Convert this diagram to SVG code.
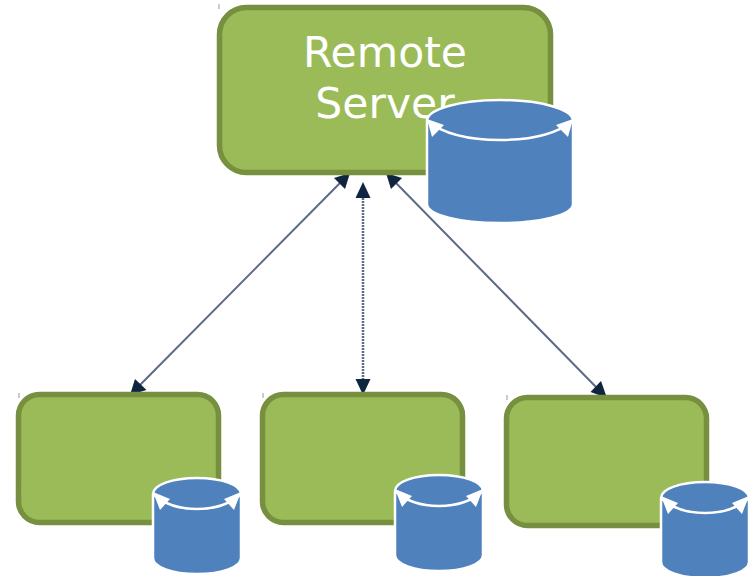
<svg xmlns="http://www.w3.org/2000/svg" width="755" height="576" viewBox="0 0 755 576">
<style>
.box{fill:#9bbb59;stroke:#77903f;stroke-width:5.500}
.cyl{fill:#4f81bd;stroke:#fff;stroke-width:2.500}
.rim{fill:none;stroke:#fff;stroke-width:2.500}
.arw{fill:#fff}
.conn{fill:none;stroke:#5d6b86;stroke-width:2}
.v{stroke-dasharray:2 1;stroke-width:2.500}
.head{fill:#0f243e}
.lbl{font-family:"DejaVu Sans",sans-serif;font-size:42.500px;fill:#fff;text-anchor:middle}
.tick{stroke:#999;stroke-width:1}
</style>
<defs>
<g id="big">
<path class="cyl" d="M427 121C427 109 460 100 500 100S573 109 573 121V204C573 215 540 223 500 223S427 215 427 204Z"/>
<path class="rim" d="M427 121C445 135 470 140 500 140S555 135 573 121"/>
<path class="arw" d="M427 119L444 125L432 137Z"/>
<path class="arw" d="M573 119L556 125L568 137Z"/>
</g>
<g id="small">
<path class="cyl" d="M0 17C0 8 19 1 44 1S88 8 88 17V81C88 90 69 97 44 97S0 90 0 81Z"/>
<path class="rim" d="M0 17C12 28 26 32 44 32S76 28 88 17"/>
<path class="arw" d="M0 15L17 22L7 33Z"/>
<path class="arw" d="M88 15L71 22L81 33Z"/>
</g>
</defs>
<g id="connectors">
<path class="conn" d="M340 183L140 385"/>
<path class="conn v" d="M363 195V382"/>
<path class="conn" d="M396 183L596 387"/>
<path class="head" d="M350 173L345 189L334 178Z"/>
<path class="head" d="M130 395L135 379L146.500 390Z"/>
<path class="head" d="M363 182L370.500 198H355.500Z"/>
<path class="head" d="M363 395L355.500 379H370.500Z"/>
<path class="head" d="M386 173L402 178L391 189Z"/>
<path class="head" d="M607 398L590.500 392L601 381Z"/>
</g>
<g id="remote-server">
<line class="tick" x1="219" y1="4" x2="219" y2="9"/>
<rect class="box" x="219.500" y="7.500" width="331" height="165" rx="27"/>
<text class="lbl" x="385" y="67">Remote</text>
<text class="lbl" x="385" y="118">Server</text>
<use href="#big"/>
</g>
<g id="client-1">
<line class="tick" x1="19" y1="393" x2="19" y2="398"/>
<rect class="box" x="18.500" y="394.500" width="200" height="128" rx="21"/>
<use href="#small" x="153" y="477"/>
</g>
<g id="client-2">
<line class="tick" x1="263" y1="393" x2="263" y2="398"/>
<rect class="box" x="262.500" y="394.500" width="200" height="128" rx="21"/>
<use href="#small" x="395" y="474"/>
</g>
<g id="client-3">
<line class="tick" x1="507" y1="395" x2="507" y2="400"/>
<rect class="box" x="506.500" y="397.500" width="200" height="128" rx="21"/>
<use href="#small" x="661" y="481"/>
</g>
</svg>
